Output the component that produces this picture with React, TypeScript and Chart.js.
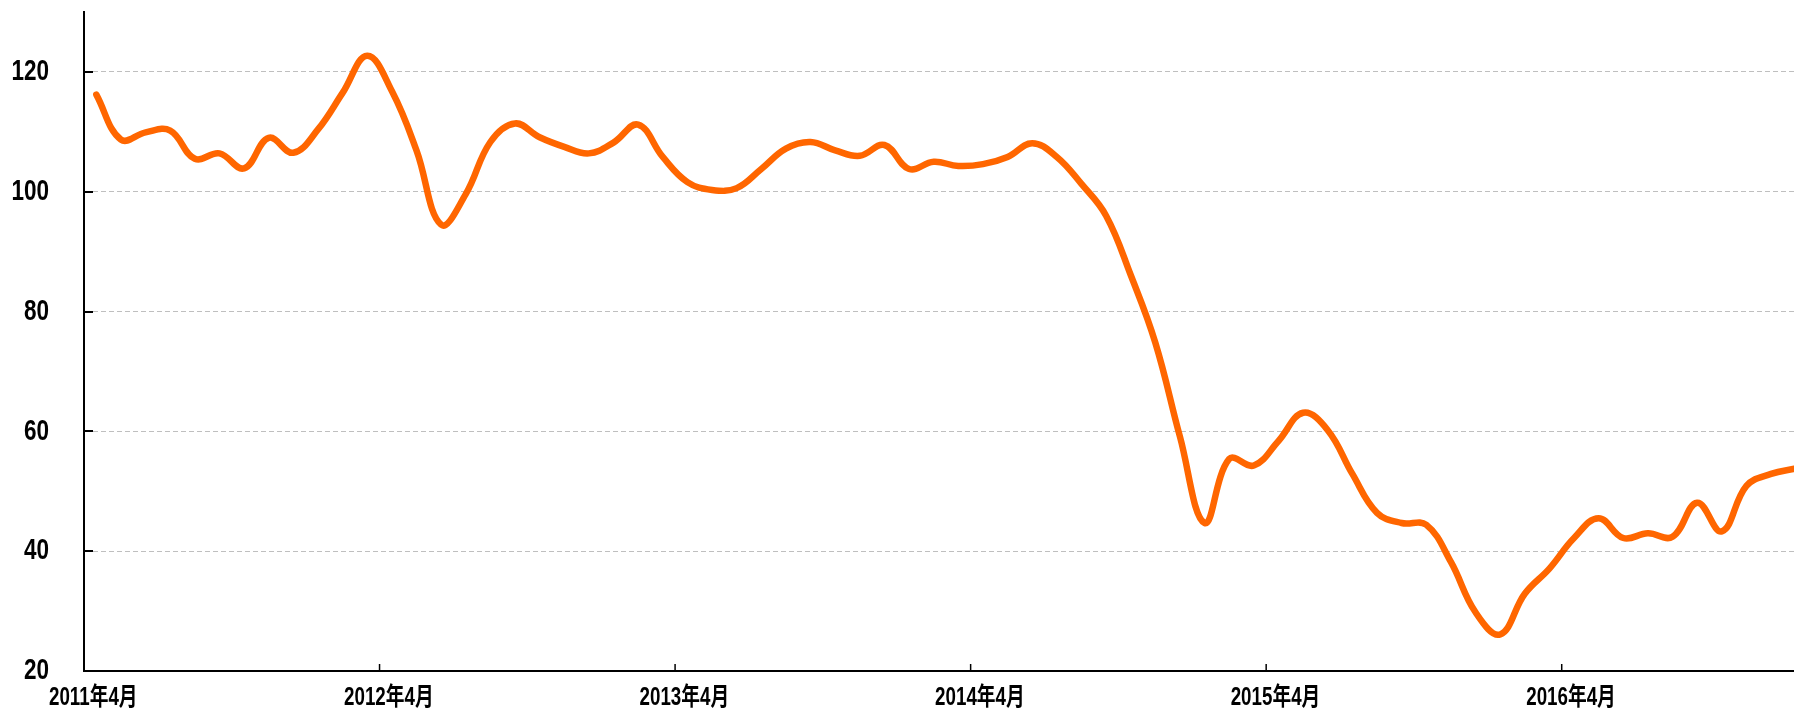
import React, { useEffect, useRef } from 'react';
import { Chart, registerables } from 'chart.js';

Chart.register(...registerables);

// Monthly index values, April 2011 onwards (one array per April–March year)
const FY2011 = [116.2, 108.7, 109.9, 110.2, 105.5, 106.4, 103.9, 109.0, 106.5, 110.4, 116.5, 122.7];
const FY2012 = [116.8, 106.9, 94.5, 99.6, 108.3, 111.4, 109.1, 107.5, 106.4, 108.2, 111.2, 105.8];
const FY2013 = [101.6, 100.3, 100.6, 103.8, 107.2, 108.3, 106.9, 106.0, 107.8, 103.8, 105.0, 104.3];
const FY2014 = [104.6, 105.8, 108.1, 105.8, 101.3, 96.0, 86.1, 74.8, 59.1, 44.7, 55.4, 54.3];
const FY2015 = [58.4, 63.1, 60.2, 52.9, 46.4, 44.7, 44.4, 38.2, 29.8, 26.1, 32.9, 37.1];
const FY2016 = [42.2, 45.5, 42.2, 43.0, 42.4, 48.1, 43.3, 50.9, 52.9, 53.8];

const VALUES = [...FY2011, ...FY2012, ...FY2013, ...FY2014, ...FY2015, ...FY2016];

// Axis labels shown (one per April)
const TICK_LABELS = ['2011年4月', '2012年4月', '2013年4月', '2014年4月', '2015年4月', '2016年4月'];
const START_YEAR = 2011;
const START_MONTH = 4;
const CATEGORIES = VALUES.map((_, i) => {
  const m = START_MONTH - 1 + i;
  return `${START_YEAR + Math.floor(m / 12)}年${(m % 12) + 1}月`;
});

const Y_MIN = 20;
const Y_MAX = 130;
const Y_STEP = 20;

const CANVAS_W = 1808;
const CANVAS_H = 711;
const FONT_FAMILY = "'Liberation Sans', Arial, 'Noto Sans CJK JP', sans-serif";
const TEXT_SX = 0.75; // condensed look of the axis lettering

// inward tick marks on both axes
const innerTicks = {
  id: 'innerTicks',
  afterDraw(chart: any) {
    const { ctx, chartArea, scales } = chart;
    const xs = scales.x;
    const ys = scales.y;
    ctx.save();
    ctx.strokeStyle = '#000';
    ctx.lineWidth = 2;
    ys.ticks.forEach((t: any) => {
      if (t.value <= Y_MIN) return;
      const py = Math.round(ys.getPixelForValue(t.value));
      ctx.beginPath();
      ctx.moveTo(chartArea.left, py);
      ctx.lineTo(chartArea.left + 9, py);
      ctx.stroke();
    });
    ctx.lineWidth = 1.5;
    for (let k = 12; k < VALUES.length; k += 12) {
      const px = (xs.getPixelForValue(k - 1) + xs.getPixelForValue(k)) / 2;
      ctx.beginPath();
      ctx.moveTo(px, chartArea.bottom);
      ctx.lineTo(px, chartArea.bottom - 7);
      ctx.stroke();
    }
    ctx.restore();
  },
};

// condensed axis labels, positioned from the scales
const condensedLabels = {
  id: 'condensedLabels',
  afterDraw(chart: any) {
    const { ctx, chartArea, scales } = chart;
    const xs = scales.x;
    const ys = scales.y;
    ctx.save();
    ctx.fillStyle = '#000';
    ctx.textBaseline = 'middle';
    ctx.textAlign = 'right';
    ctx.font = `bold 30px ${FONT_FAMILY}`;
    ys.ticks.forEach((t: any) => {
      const py = ys.getPixelForValue(t.value);
      ctx.save();
      ctx.translate(chartArea.left - 35, py);
      ctx.scale(TEXT_SX, 1);
      ctx.fillText(String(t.value), 0, 0);
      ctx.restore();
    });
    ctx.textAlign = 'center';
    ctx.font = `bold 25px ${FONT_FAMILY}`;
    TICK_LABELS.forEach((lab, j) => {
      const px = xs.getPixelForValue(j * 12);
      ctx.save();
      ctx.translate(px - 3, chartArea.bottom + 27);
      ctx.scale(TEXT_SX, 1);
      ctx.fillText(lab, 0, 0);
      ctx.restore();
    });
    ctx.restore();
  },
};

export default function App() {
  const ref = useRef<HTMLCanvasElement>(null);
  useEffect(() => {
    const canvas = ref.current;
    if (!canvas) return;
    const chart = new Chart(canvas, {
      type: 'line',
      data: {
        labels: CATEGORIES,
        datasets: [
          {
            data: VALUES,
            borderColor: '#FF6600',
            borderWidth: 6.5,
            pointRadius: 0,
            tension: 0.4,
            fill: false,
            borderCapStyle: 'round',
            borderJoinStyle: 'round',
          },
        ],
      },
      options: {
        responsive: false,
        animation: false,
        devicePixelRatio: 1,
        layout: { padding: { left: 0, top: 12, right: 0, bottom: 0 } },
        plugins: { legend: { display: false }, tooltip: { enabled: false } },
        scales: {
          x: {
            type: 'category',
            offset: true,
            grid: { display: false },
            border: { display: true, color: '#000', width: 2 },
            afterFit: (s: any) => {
              s.height = 40;
              s.paddingLeft = 0;
              s.paddingRight = 0;
            },
            ticks: { display: false, autoSkip: false },
          },
          y: {
            min: Y_MIN,
            max: Y_MAX,
            grid: { color: '#bfbfbf', lineWidth: 1, drawTicks: false },
            border: { display: true, color: '#000', width: 2, dash: [5, 3] },
            afterFit: (s: any) => {
              s.width = 84;
              s.paddingTop = 0;
              s.paddingBottom = 0;
            },
            ticks: { display: false, stepSize: Y_STEP, includeBounds: false },
          },
        },
      },
      plugins: [innerTicks, condensedLabels],
    } as any);
    return () => chart.destroy();
  }, []);

  return (
    <div
      style={{
        position: 'fixed',
        left: 0,
        top: 0,
        width: 1794,
        height: 711,
        overflow: 'hidden',
        background: '#fff',
      }}
    >
      <canvas
        ref={ref}
        width={CANVAS_W}
        height={CANVAS_H}
        style={{ display: 'block', width: CANVAS_W, height: CANVAS_H }}
      />
    </div>
  );
}
